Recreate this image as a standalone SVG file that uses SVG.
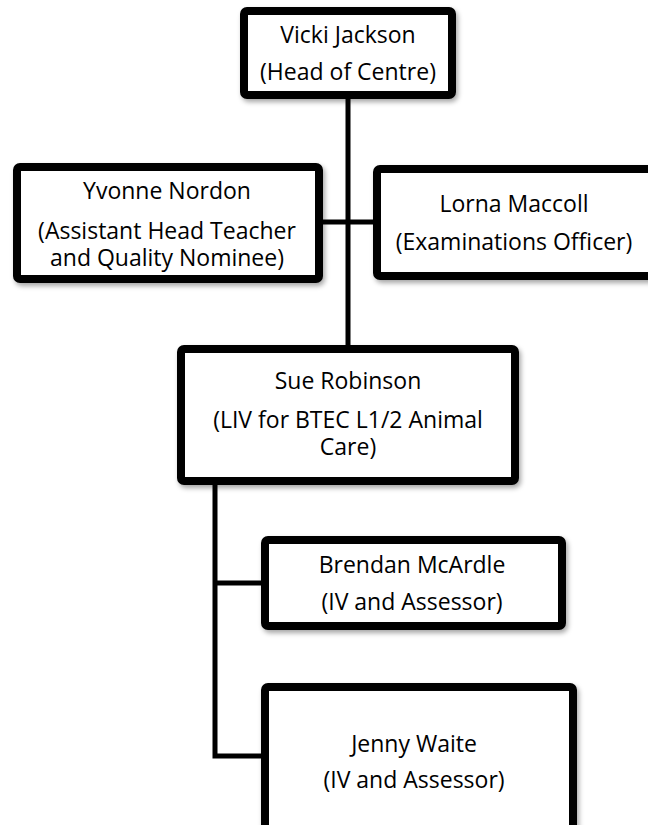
<svg xmlns="http://www.w3.org/2000/svg" width="648" height="825" viewBox="0 0 648 825">
<style>
.box{fill:#fff;stroke:#000;stroke-width:8;filter:url(#sh)}
.con{stroke:#000;stroke-width:5;fill:none}
text{font-family:"Open Sans","Liberation Sans",sans-serif;font-size:23px;fill:#000;text-anchor:middle}
</style>
<defs>
<filter id="sh" x="-10%" y="-10%" width="125%" height="130%">
<feDropShadow dx="2" dy="3" stdDeviation="2.5" flood-color="#000" flood-opacity="0.35"/>
</filter>
</defs>
<rect width="648" height="825" fill="#fff"/>
<g id="connectors">
<line class="con" x1="348" y1="99" x2="348" y2="345"/>
<line class="con" x1="323" y1="222" x2="373" y2="222"/>
<polyline class="con" points="215,485 215,756 261,756"/>
<line class="con" x1="215" y1="583" x2="261" y2="583"/>
</g>
<g id="vicki">
<rect class="box" x="244" y="11" width="208" height="84" rx="3"/>
<text x="348" y="43">Vicki Jackson</text>
<text x="348" y="80">(Head of Centre)</text>
</g>
<g id="yvonne">
<rect class="box" x="17" y="167" width="302" height="112" rx="3"/>
<text x="167" y="199">Yvonne Nordon</text>
<text x="167" y="239">(Assistant Head Teacher</text>
<text x="167" y="266">and Quality Nominee)</text>
</g>
<g id="lorna">
<rect class="box" x="377" y="169" width="280" height="107" rx="3"/>
<text x="514" y="212">Lorna Maccoll</text>
<text x="514" y="250">(Examinations Officer)</text>
</g>
<g id="sue">
<rect class="box" x="181" y="349" width="334" height="132" rx="3"/>
<text x="348" y="389">Sue Robinson</text>
<text x="348" y="428">(LIV for BTEC L1/2 Animal</text>
<text x="348" y="455">Care)</text>
</g>
<g id="brendan">
<rect class="box" x="265" y="540" width="297" height="86" rx="3"/>
<text x="412" y="573">Brendan McArdle</text>
<text x="412" y="610">(IV and Assessor)</text>
</g>
<g id="jenny">
<rect class="box" x="265" y="687" width="308" height="150" rx="3"/>
<text x="414" y="752">Jenny Waite</text>
<text x="414" y="788">(IV and Assessor)</text>
</g>
</svg>
